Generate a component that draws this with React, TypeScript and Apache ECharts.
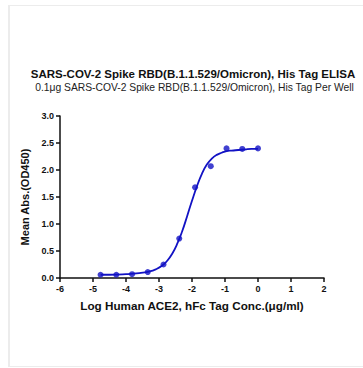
import React, { useEffect, useRef } from "react";
import * as echarts from "echarts";

const titleText = "SARS-COV-2 Spike RBD(B.1.1.529/Omicron), His Tag ELISA";
const subtitleText = "0.1μg SARS-COV-2 Spike RBD(B.1.1.529/Omicron), His Tag Per Well";
const xAxisName = "Log Human ACE2, hFc Tag Conc.(μg/ml)";
const yAxisName = "Mean Abs.(OD450)";

const logConc = [-4.771, -4.294, -3.817, -3.34, -2.863, -2.386, -1.908, -1.431, -0.954, -0.477, 0];
const meanAbs = [0.06, 0.06, 0.07, 0.11, 0.25, 0.73, 1.68, 2.07, 2.4, 2.39, 2.4];

const curveX = [-4.77, -4.5, -4.0, -3.6, -3.3, -3.1, -2.9, -2.75, -2.6, -2.45, -2.3, -2.15, -2.0, -1.85, -1.7, -1.55, -1.4, -1.25, -1.1, -0.95, -0.8, -0.6, -0.4, -0.2, 0];
const curveY = [0.06, 0.06, 0.07, 0.09, 0.12, 0.16, 0.23, 0.32, 0.45, 0.63, 0.86, 1.14, 1.43, 1.7, 1.93, 2.1, 2.21, 2.28, 2.32, 2.35, 2.36, 2.37, 2.38, 2.39, 2.39];

const xMin = -6, xMax = 2, xStep = 1;
const yMin = 0, yMax = 3, yStep = 0.5;

const BLUE = "#1212c4";

export default function App() {
  const ref = useRef<HTMLDivElement>(null);
  useEffect(() => {
    if (!ref.current) return;
    const chart = echarts.init(ref.current, null, { renderer: "svg" });
    chart.setOption({
      animation: false,
      backgroundColor: "#ffffff",
      graphic: [
        { type: "line", shape: { x1: 9, y1: 5, x2: 9, y2: 367 }, style: { stroke: "#ececec", lineWidth: 2 } },
        { type: "line", shape: { x1: 8, y1: 5.5, x2: 363, y2: 5.5 }, style: { stroke: "#ececec", lineWidth: 1 } },
        { type: "line", shape: { x1: 8, y1: 366.5, x2: 363, y2: 366.5 }, style: { stroke: "#ececec", lineWidth: 1 } },
      ],
      title: [
        {
          text: titleText,
          left: 188,
          textAlign: "center",
          top: 63,
          textStyle: { fontFamily: "Arial, Liberation Sans", fontSize: 11.5, fontWeight: "bold", color: "#111" },
        },
        {
          text: subtitleText,
          left: 189.5,
          textAlign: "center",
          top: 77,
          textStyle: { fontFamily: "Arial, Liberation Sans", fontSize: 10.3, fontWeight: "normal", color: "#222" },
        },
      ],
      grid: { left: 60, right: 39, top: 116, bottom: 90, containLabel: false },
      xAxis: {
        type: "value",
        min: xMin,
        max: xMax,
        interval: xStep,
        name: xAxisName,
        nameLocation: "middle",
        nameGap: 21,
        nameTextStyle: { fontFamily: "Arial, Liberation Sans", fontSize: 11.7, fontWeight: "bold", color: "#111" },
        axisLine: { onZero: false, lineStyle: { color: "#111", width: 1.5 } },
        axisTick: { length: 4, lineStyle: { color: "#111", width: 1.5 } },
        axisLabel: { fontFamily: "Arial, Liberation Sans", fontSize: 9, fontWeight: "bold", color: "#111", margin: 6 },
        splitLine: { show: false },
      },
      yAxis: {
        type: "value",
        min: yMin,
        max: yMax,
        interval: yStep,
        name: yAxisName,
        nameLocation: "middle",
        nameGap: 27,
        nameTextStyle: { fontFamily: "Arial, Liberation Sans", fontSize: 11, fontWeight: "bold", color: "#111" },
        axisLine: { show: true, onZero: false, lineStyle: { color: "#111", width: 1.5 } },
        axisTick: { show: true, length: 4, lineStyle: { color: "#111", width: 1.5 } },
        axisLabel: {
          fontFamily: "Arial, Liberation Sans",
          fontSize: 9,
          fontWeight: "bold",
          color: "#111",
          margin: 6,
          formatter: (v: number) => v.toFixed(1),
        },
        splitLine: { show: false },
      },
      series: [
        {
          type: "line",
          data: curveX.map((x, i) => [x, curveY[i]]),
          smooth: true,
          symbol: "none",
          lineStyle: { color: BLUE, width: 1.8 },
          z: 2,
        },
        {
          type: "scatter",
          data: logConc.map((x, i) => [x, meanAbs[i]]),
          symbol: "circle",
          symbolSize: 6,
          itemStyle: { color: BLUE },
          z: 3,
        },
      ],
    });
    return () => chart.dispose();
  }, []);
  return (
    <div style={{ position: "absolute", left: 0, top: 0, width: 363, height: 368 }}>
      <div ref={ref} style={{ width: 363, height: 368 }} />
    </div>
  );
}
